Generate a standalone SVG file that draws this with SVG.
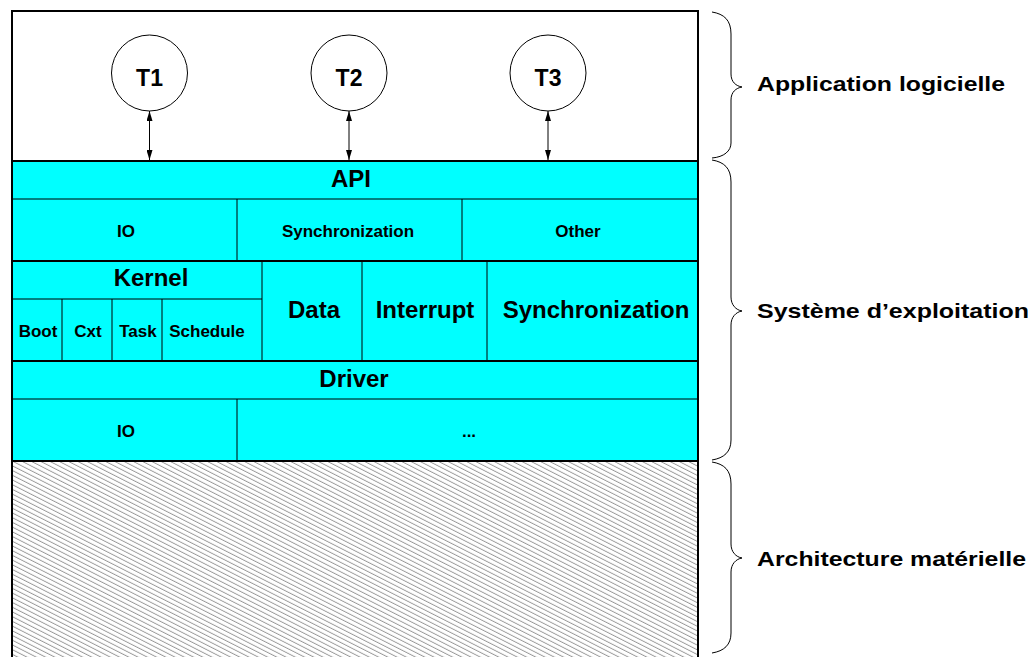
<svg xmlns="http://www.w3.org/2000/svg" width="1028" height="657" viewBox="0 0 1028 657">
<style>
text{font-family:"Liberation Sans",Arial,sans-serif;font-weight:bold;fill:#000;text-anchor:middle}
.big{font-size:24px}
.sm{font-size:17px}
.tk{font-size:23px}
.lbl{font-size:21px;text-anchor:start}
.cell{fill:#00FFFF;stroke:none}
.thin{stroke:#000;stroke-width:1;fill:none}
.thick{stroke:#000;stroke-width:2;fill:none}
.circ{fill:#fff;stroke:#000;stroke-width:1}
.arr{stroke:#000;stroke-width:1;fill:none;marker-start:url(#ah);marker-end:url(#ah)}
.brace{stroke:#000;stroke-width:1;fill:none}
</style>
<defs>
<marker id="ah" viewBox="0 0 10 6" refX="10" refY="3" markerWidth="10" markerHeight="6" markerUnits="userSpaceOnUse" orient="auto-start-reverse">
<path d="M0,0 L10,3 L0,6 Z" fill="#000"/>
</marker>
<pattern id="hatch" patternUnits="userSpaceOnUse" width="8" height="4.2" patternTransform="rotate(27)">
<rect width="8" height="4.2" fill="#fff"/>
<line x1="0" y1="2" x2="8" y2="2" stroke="#7a7a7a" stroke-width="0.8"/>
</pattern>
</defs>

<rect width="1028" height="657" fill="#fff"/>

<g id="application-layer">
<rect x="12" y="11" width="686" height="150" fill="#fff"/>
</g>

<g id="hardware-layer">
<rect x="12" y="461" width="686" height="210" fill="url(#hatch)"/>
</g>

<g id="api-layer">
<rect class="cell" x="12" y="161" width="686" height="100"/>
<line class="thin" x1="12" y1="199" x2="698" y2="199"/>
<line class="thin" x1="237" y1="199" x2="237" y2="261"/>
<line class="thin" x1="462" y1="199" x2="462" y2="261"/>
<text class="big" x="351" y="187">API</text>
<text class="sm" x="126" y="237">IO</text>
<text class="sm" x="348" y="237">Synchronization</text>
<text class="sm" x="578" y="237">Other</text>
</g>

<g id="kernel-layer">
<rect class="cell" x="12" y="261" width="686" height="100"/>
<line class="thin" x1="12" y1="299" x2="262" y2="299"/>
<line class="thin" x1="62" y1="299" x2="62" y2="361"/>
<line class="thin" x1="112" y1="299" x2="112" y2="361"/>
<line class="thin" x1="162" y1="299" x2="162" y2="361"/>
<line class="thin" x1="262" y1="261" x2="262" y2="361"/>
<line class="thin" x1="362" y1="261" x2="362" y2="361"/>
<line class="thin" x1="487" y1="261" x2="487" y2="361"/>
<text class="big" x="151" y="286">Kernel</text>
<text class="sm" x="38" y="337">Boot</text>
<text class="sm" x="88" y="337">Cxt</text>
<text class="sm" x="138" y="337">Task</text>
<text class="sm" x="207" y="337">Schedule</text>
<text class="big" x="314" y="318">Data</text>
<text class="big" x="425" y="318">Interrupt</text>
<text class="big" x="596" y="318">Synchronization</text>
</g>

<g id="driver-layer">
<rect class="cell" x="12" y="361" width="686" height="100"/>
<line class="thin" x1="12" y1="399" x2="698" y2="399"/>
<line class="thin" x1="237" y1="399" x2="237" y2="461"/>
<text class="big" x="354" y="387">Driver</text>
<text class="sm" x="126" y="437">IO</text>
<text class="sm" x="469" y="437">...</text>
</g>

<g id="frame">
<line class="thick" x1="12" y1="161" x2="698" y2="161"/>
<line class="thick" x1="12" y1="261" x2="698" y2="261"/>
<line class="thick" x1="12" y1="361" x2="698" y2="361"/>
<line class="thick" x1="12" y1="461" x2="698" y2="461"/>
<rect class="thick" x="12" y="11" width="686" height="670"/>
</g>

<g id="task-T1">
<circle class="circ" cx="149.5" cy="73" r="38"/>
<text class="tk" x="149.5" y="86">T1</text>
</g>
<g id="task-T2">
<circle class="circ" cx="349" cy="73" r="38"/>
<text class="tk" x="349" y="86">T2</text>
</g>
<g id="task-T3">
<circle class="circ" cx="548" cy="73" r="38"/>
<text class="tk" x="548" y="86">T3</text>
</g>

<g id="connectors">
<line class="arr" x1="149.5" y1="111" x2="149.5" y2="160"/>
<line class="arr" x1="349" y1="111" x2="349" y2="160"/>
<line class="arr" x1="548" y1="111" x2="548" y2="160"/>
</g>

<g id="braces">
<path class="brace" d="M712,12 C724,14 731,20 731,34 L731,74 C731,82 736,86 742,87 C736,88 731,92 731,100 L731,143 C731,151 724,157 712,158"/>
<path class="brace" d="M712,160 C724,162 731,168 731,182 L731,297 C731,305 736,310 742,311 C736,312 731,317 731,325 L731,440 C731,452 724,458 712,460"/>
<path class="brace" d="M712,462 C724,464 731,470 731,484 L731,544 C731,552 736,557 742,558 C736,559 731,564 731,572 L731,633 C731,645 724,651 712,653"/>
</g>

<g id="labels">
<text class="lbl" x="757" y="91" textLength="248" lengthAdjust="spacingAndGlyphs">Application logicielle</text>
<text class="lbl" x="757" y="318" textLength="272" lengthAdjust="spacingAndGlyphs">Système d’exploitation</text>
<text class="lbl" x="757" y="566" textLength="269" lengthAdjust="spacingAndGlyphs">Architecture matérielle</text>
</g>
</svg>
